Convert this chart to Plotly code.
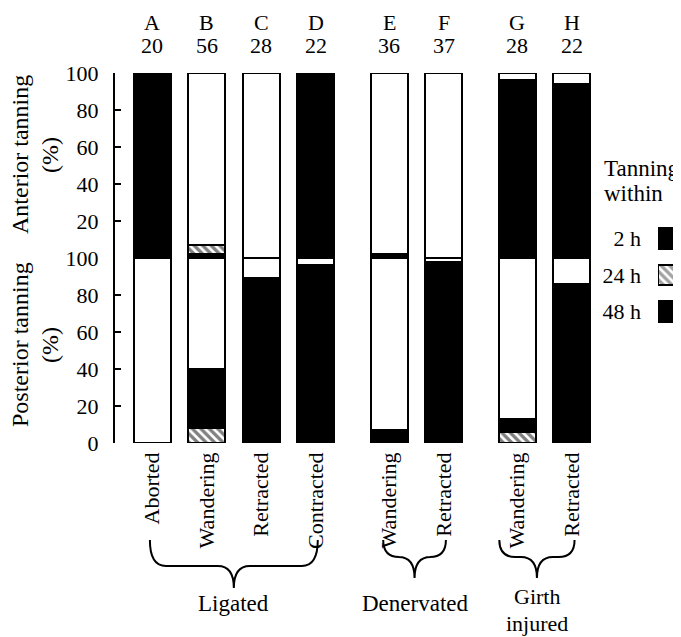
import plotly.graph_objects as go

# ---------------- data ----------------
letters = ["A", "B", "C", "D", "E", "F", "G", "H"]
counts = [20, 56, 28, 22, 36, 37, 28, 22]
states = ["Aborted", "Wandering", "Retracted", "Contracted",
          "Wandering", "Retracted", "Wandering", "Retracted"]
group_names = ["Ligated", "Denervated", "Girth<br>injured"]
group_sizes = [4, 2, 2]

# anterior tanning (%) within 2 h, 24 h, 48 h
ant_2h = [100, 2, 0, 100, 2, 0, 96, 94]
ant_24h = [0, 5, 0, 0, 0, 0, 0, 0]
ant_48h = [0, 0, 0, 0, 0, 0, 0, 0]
# posterior tanning (%) within 2 h, 24 h, 48 h
post_2h = [0, 0, 89, 96, 0, 98, 0, 86]
post_24h = [0, 8, 0, 0, 0, 0, 6, 0]
post_48h = [0, 32, 0, 0, 7, 0, 7, 0]

legend_labels = ["2 h", "24 h", "48 h"]
legend_shapes = ["", "\\", ""]
legend_colors = ["black", "white", "black"]

# ---------------- style ----------------
FONT = "Liberation Serif"
FS = 22      # numbers / tick labels
FSW = 24     # titles / words
LW = 2
BAR_W = 0.68
GROUP_GAP = 0.35
HATCH = dict(shape="\\", fgcolor="black", bgcolor="white", size=6, solidity=0.55)

# the page body adds an 8px offset; compensate
OFF = 8
FIG_W, FIG_H = 681 - OFF, 637 - OFF
ML, MT = 115 - OFF, 73 - OFF
PLOT_W = FIG_W - ML
PLOT_H = 370
MB = FIG_H - MT - PLOT_H

# bar positions: unit spacing inside a group, extra gap between groups
xpos = []
p = 0.0
for size in group_sizes:
    for _ in range(size):
        xpos.append(p)
        p += 1
    p += GROUP_GAP

fig = go.Figure()


def add_stack(v2, v24, v48, yref):
    rest = [100 - a - b - c for a, b, c in zip(v2, v24, v48)]
    parts = [
        (v2, dict(color="black")),
        (v24, dict(color="white", pattern=HATCH)),
        (v48, dict(color="black")),
        (rest, dict(color="white")),
    ]
    for vals, mk in parts:
        mk = dict(mk)
        mk["line"] = dict(color="black", width=LW)
        fig.add_trace(go.Bar(x=xpos, y=vals, width=BAR_W, marker=mk,
                             xaxis="x", yaxis=yref, cliponaxis=False,
                             hoverinfo="skip"))


add_stack(ant_2h, ant_24h, ant_48h, "y")
add_stack(post_2h, post_24h, post_48h, "y2")

# legend boxes as a tiny subplot
fig.add_trace(go.Bar(
    y=legend_labels, x=[1, 1, 1], orientation="h", width=0.56,
    xaxis="x3", yaxis="y3", cliponaxis=False, hoverinfo="skip",
    marker=dict(color=legend_colors,
                pattern=dict(shape=legend_shapes, fgcolor="black",
                             bgcolor="white", size=6, solidity=0.55),
                line=dict(color="black", width=LW))))


def py(pix):  # reference pixel row -> paper y
    return (443 - pix) / PLOT_H


def px(pix):  # reference pixel column -> paper x
    return (pix - 115) / PLOT_W


yaxis_common = dict(range=[0, 100], anchor="x", showline=True, linewidth=LW,
                    linecolor="black", ticks="inside", ticklen=6, tickwidth=LW,
                    tickcolor="black", showgrid=False, zeroline=False,
                    ticklabelstandoff=10, tickfont=dict(size=FS))

fig.update_layout(
    width=FIG_W, height=FIG_H,
    margin=dict(l=ML, r=0, t=MT, b=MB),
    paper_bgcolor="white", plot_bgcolor="white",
    barmode="stack", showlegend=False,
    font=dict(family=FONT, size=FS, color="black"),
    xaxis=dict(domain=[0, 477 / PLOT_W], range=[-0.68, 8.07], anchor="y2",
               tickmode="array", tickvals=xpos, ticktext=states, tickangle=-90,
               showline=False, showgrid=False, zeroline=False, ticks="",
               ticklabelstandoff=4, tickfont=dict(size=FS)),
    yaxis=dict(domain=[0.5, 1], tickvals=[20, 40, 60, 80, 100], **yaxis_common),
    yaxis2=dict(domain=[0, 0.5], tickvals=[0, 20, 40, 60, 80, 100], **yaxis_common),
    xaxis3=dict(domain=[px(658), 1], range=[0, 1], anchor="y3", visible=False),
    yaxis3=dict(domain=[py(330), py(220)], anchor="x3", autorange="reversed",
                showline=False, showgrid=False, zeroline=False, ticks="",
                ticklabelstandoff=16, tickfont=dict(size=FS)),
)

# letters and counts above the bars
for xv, L, n in zip(xpos, letters, counts):
    fig.add_annotation(x=xv, y=py(22), xref="x", yref="paper", text=L,
                       showarrow=False, yanchor="middle")
    fig.add_annotation(x=xv, y=py(45), xref="x", yref="paper", text=str(n),
                       showarrow=False, yanchor="middle")

# y titles
for title, yc in [("Anterior tanning", 155), ("Posterior tanning", 345)]:
    fig.add_annotation(x=px(20), y=py(yc), xref="paper", yref="paper",
                       text=title, textangle=-90, showarrow=False,
                       xanchor="center", yanchor="middle", font=dict(size=FSW))
    fig.add_annotation(x=px(50), y=py(yc), xref="paper", yref="paper",
                       text="(%)", textangle=-90, showarrow=False,
                       xanchor="center", yanchor="middle", font=dict(size=FSW))

# legend title (two lines, tight spacing)
for line, yc in [("Tanning", 168), ("within", 193)]:
    fig.add_annotation(x=px(602), y=py(yc), xref="paper", yref="paper",
                       text=line, showarrow=False, align="left",
                       xanchor="left", yanchor="middle", font=dict(size=23))

# braces below the category labels
UNIT = 477 / (8.07 + 0.68)  # pixels per x unit


def brace_path(xl, xr, ytop, ymid, ytip, rpx=16):
    xc = (xl + xr) / 2
    r = rpx / UNIT
    a, m, t = py(ytop), py(ymid), py(ytip)
    return (f"M{xl},{a} Q{xl},{m} {xl + r},{m} L{xc - r},{m} "
            f"Q{xc},{m} {xc},{t} Q{xc},{m} {xc + r},{m} "
            f"L{xr - r},{m} Q{xr},{m} {xr},{a}")


brace_specs = [  # (offset left, offset right, y of horizontal, y of tip)
    (-0.04, 0.04, 566, 588),
    (-0.11, 0.04, 557, 578),
    (-0.33, 0.05, 557, 578),
]
idx = 0
for gi, size in enumerate(group_sizes):
    first, last = xpos[idx], xpos[idx + size - 1]
    idx += size
    ol, orr, ym, yt = brace_specs[gi]
    xl, xr = first + ol, last + orr
    fig.add_shape(type="path", xref="x", yref="paper",
                  path=brace_path(xl, xr, 540, ym, yt),
                  line=dict(color="black", width=LW))
    lines = group_names[gi].split("<br>")
    for li, line in enumerate(lines):
        yc = 603 if len(lines) == 1 else 596 + 27 * li
        fs = 23 if len(lines) == 1 else 22
        fig.add_annotation(x=(xl + xr) / 2, y=py(yc), xref="x",
                           yref="paper", text=line, showarrow=False,
                           yanchor="middle", font=dict(size=fs))

fig.write_html("out.html")
